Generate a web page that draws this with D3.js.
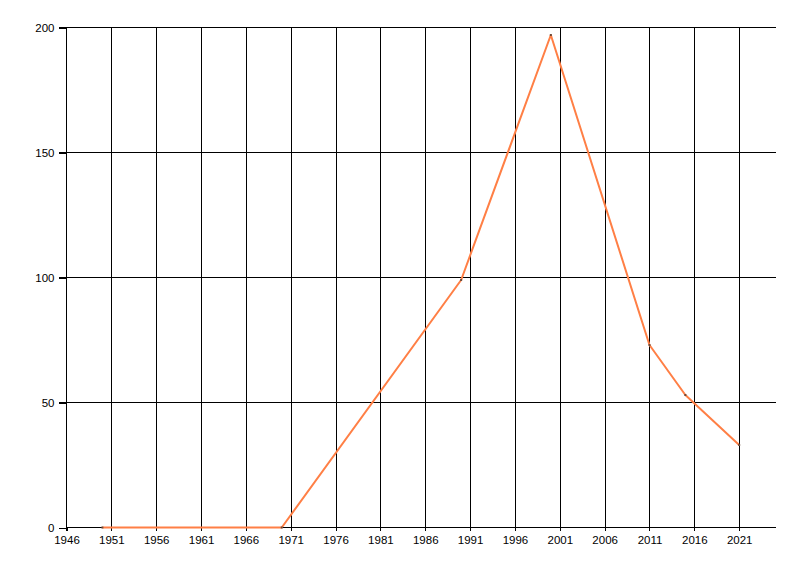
<!DOCTYPE html>
<html><head><meta charset="utf-8">
<script src="https://cdn.jsdelivr.net/npm/d3@7"></script>
<style>body{margin:0;background:#fff}svg{display:block}</style>
</head><body>
<svg id="c" width="800" height="576"></svg>
<script>
const years = [1950, 1970, 1990, 2000, 2011, 2015, 2021];
const values = [0, 0, 99, 197, 73, 53, 33];
const xTicks = [1946, 1951, 1956, 1961, 1966, 1971, 1976, 1981, 1986, 1991, 1996, 2001, 2006, 2011, 2016, 2021];
const yTicks = [0, 50, 100, 150, 200];

const svg = d3.select("#c");
const x = d3.scaleLinear().domain([1946, 2025.05]).range([66.5, 775.5]);
const y = d3.scaleLinear().domain([0, 200]).range([527.5, 27.5]);
const font = "'Liberation Sans', Arial, sans-serif";

// vertical gridlines
svg.append("g").selectAll("line").data(xTicks.slice(1)).join("line")
  .attr("x1", d => Math.round(x(d)) + 0.5).attr("x2", d => Math.round(x(d)) + 0.5)
  .attr("y1", y(200)).attr("y2", y(0) + 3)
  .attr("stroke", "#000").attr("stroke-width", 1).attr("shape-rendering", "crispEdges");
// horizontal gridlines
svg.append("g").selectAll("line").data(yTicks.slice(1)).join("line")
  .attr("x1", x(1946) - 8).attr("x2", x.range()[1])
  .attr("y1", d => y(d)).attr("y2", d => y(d))
  .attr("stroke", "#000").attr("stroke-width", 1).attr("shape-rendering", "crispEdges");

// axes
const xAxis = d3.axisBottom(x).tickValues(xTicks).tickFormat(d3.format("d")).tickSize(3).tickPadding(5);
const gx = svg.append("g").attr("transform", `translate(0,${y(0)})`).call(xAxis);
const yAxis = d3.axisLeft(y).tickValues(yTicks).tickSize(8).tickPadding(4);
const gy = svg.append("g").attr("transform", `translate(${x(1946)},0)`).call(yAxis);
[gx, gy].forEach(g => {
  g.select(".domain").remove();
  g.selectAll("line").attr("stroke", "#000").attr("shape-rendering", "crispEdges");
  g.selectAll("text").attr("fill", "#000").style("font-family", font).style("font-size", "11.5px");
});
// axis lines
svg.append("line").attr("x1", x(1946)).attr("x2", x.range()[1]).attr("y1", y(0)).attr("y2", y(0))
  .attr("stroke", "#000").attr("shape-rendering", "crispEdges");
svg.append("line").attr("x1", x(1946)).attr("x2", x(1946)).attr("y1", y(200)).attr("y2", y(0) + 3)
  .attr("stroke", "#000").attr("shape-rendering", "crispEdges");

// data line
const pts = years.map((d, i) => [d, values[i]]);
svg.append("path").datum(pts)
  .attr("d", d3.line().x(d => x(d[0])).y(d => y(d[1])))
  .attr("fill", "none").attr("stroke", "#ff7f45").attr("stroke-width", 2).attr("stroke-linejoin", "round");
svg.append("g").selectAll("rect").data(pts).join("rect")
  .attr("x", d => x(d[0]) - 1).attr("y", d => y(d[1]) - 1).attr("width", 2).attr("height", 2)
  .attr("fill", "#6b4a3a");
</script>
</body></html>
